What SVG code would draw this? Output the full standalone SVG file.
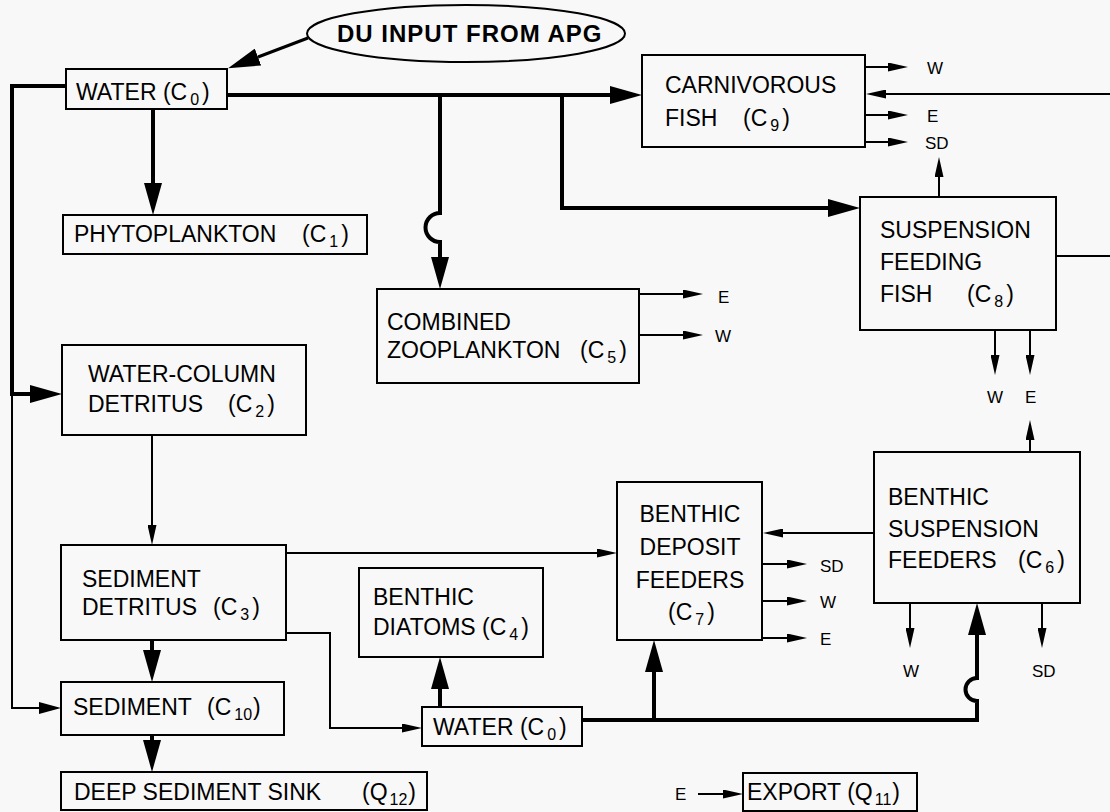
<svg xmlns="http://www.w3.org/2000/svg" width="1110" height="812" viewBox="0 0 1110 812">
<style>
.bg{fill:#f8f8f8}
.box{fill:none;stroke:#000;stroke-width:2}
.t{font-family:"Liberation Sans",Arial,Helvetica,sans-serif;font-size:23px;fill:#000}
.s{font-size:16px}
.l{font-family:"Liberation Sans",Arial,Helvetica,sans-serif;font-size:17px;fill:#000}
.b{font-family:"Liberation Sans",Arial,Helvetica,sans-serif;font-size:24px;font-weight:bold;letter-spacing:1px;fill:#000}
.thick{fill:none;stroke:#000;stroke-width:4;marker-end:url(#big)}
.thin{fill:none;stroke:#000;stroke-width:2;marker-end:url(#small)}
.plain{fill:none;stroke:#000;stroke-width:2}
</style>
<defs>
<marker id="big" markerUnits="userSpaceOnUse" markerWidth="32" markerHeight="18" refX="0" refY="9" orient="auto"><path d="M0,0 L32,9 L0,18 z" fill="#000"/></marker>
<marker id="mid" markerUnits="userSpaceOnUse" markerWidth="22" markerHeight="12" refX="0" refY="6" orient="auto"><path d="M0,0 L22,6 L0,12 z" fill="#000"/></marker>
<marker id="small" markerUnits="userSpaceOnUse" markerWidth="20" markerHeight="9" refX="0" refY="4.5" orient="auto"><path d="M0,0 L20,4.5 L0,9 z" fill="#000"/></marker>
</defs>
<rect class="bg" x="0" y="0" width="1110" height="812"/>

<g id="connectors">
<path d="M308,38 L258,57" fill="none" stroke="#000" stroke-width="3" marker-end="url(#big)"/>
<path class="thick" d="M66,86 H12 V394 H30"/>
<path d="M12,394 V708 H39" fill="none" stroke="#000" stroke-width="2" marker-end="url(#mid)"/>
<path class="thick" d="M153,109 V183"/>
<path class="thick" d="M227,95 H610"/>
<path class="thick" d="M440,95 V213 A14.5,14.5 0 0 0 440,242 V257"/>
<path class="thick" d="M562,95 V208 H828"/>
<path class="thick" d="M582,720 H977 V701 A11.5,11.5 0 0 1 977,678 V635"/>
<path class="thick" d="M654,720 V672"/>
<path class="thick" d="M440,707 V689"/>
<path class="thick" d="M152,640 V650"/>
<path class="thick" d="M152,735 V740"/>
<path class="thin" d="M152,435 V525"/>
<path class="thin" d="M286,553 H597"/>
<path class="thin" d="M286,633 H330 V728 H402"/>
<path class="thin" d="M874,533 H783"/>
<path class="thin" d="M939,197 V177"/>
<path class="thin" d="M1110,94 H886"/>
<path class="plain" d="M1056,256 H1110"/>
<path class="thin" d="M865,67 H888"/>
<path class="thin" d="M865,115 H888"/>
<path class="thin" d="M865,142 H888"/>
<path class="thin" d="M639,294 H683"/>
<path class="thin" d="M639,335 H683"/>
<path class="thin" d="M995,330 V355"/>
<path class="thin" d="M1030,330 V355"/>
<path class="thin" d="M1030,452 V440"/>
<path class="thin" d="M762,564 H787"/>
<path class="thin" d="M762,601 H787"/>
<path class="thin" d="M762,638 H787"/>
<path class="thin" d="M910,603 V628"/>
<path class="thin" d="M1042,603 V628"/>
<path class="thin" d="M698,794 H723"/>
</g>

<g id="labels">
<text class="l" x="927" y="74">W</text>
<text class="l" x="927" y="122">E</text>
<text class="l" x="925" y="149">SD</text>
<text class="l" x="718" y="303">E</text>
<text class="l" x="715" y="342">W</text>
<text class="l" x="987" y="403">W</text>
<text class="l" x="1025" y="403">E</text>
<text class="l" x="820" y="572">SD</text>
<text class="l" x="820" y="608">W</text>
<text class="l" x="820" y="645">E</text>
<text class="l" x="903" y="677">W</text>
<text class="l" x="1032" y="677">SD</text>
<text class="l" x="675" y="800">E</text>
</g>

<g id="du-input">
<ellipse class="box" cx="466" cy="33.5" rx="159" ry="28.5"/>
<text class="b" x="337" y="42">DU INPUT FROM APG</text>
</g>

<g id="water-top">
<rect class="box" x="66" y="69" width="161" height="40"/>
<text class="t" x="76" y="100">WATER (C<tspan class="s" dx="3" dy="5">0</tspan><tspan dx="3" dy="-5">)</tspan></text>
</g>

<g id="phytoplankton">
<rect class="box" x="63" y="215" width="304" height="39"/>
<text class="t" x="74" y="242">PHYTOPLANKTON<tspan x="302">(C</tspan><tspan class="s" dx="3" dy="5">1</tspan><tspan dx="3" dy="-5">)</tspan></text>
</g>

<g id="carnivorous-fish">
<rect class="box" x="642" y="55" width="223" height="92"/>
<text class="t" x="665" y="93">CARNIVOROUS</text>
<text class="t" x="665" y="126">FISH<tspan x="743">(C</tspan><tspan class="s" dx="3" dy="5">9</tspan><tspan dx="3" dy="-5">)</tspan></text>
</g>

<g id="suspension-feeding-fish">
<rect class="box" x="860" y="197" width="196" height="133"/>
<text class="t" x="880" y="238">SUSPENSION</text>
<text class="t" x="880" y="270">FEEDING</text>
<text class="t" x="880" y="302">FISH<tspan x="967">(C</tspan><tspan class="s" dx="3" dy="5">8</tspan><tspan dx="3" dy="-5">)</tspan></text>
</g>

<g id="combined-zooplankton">
<rect class="box" x="377" y="289" width="262" height="94"/>
<text class="t" x="387" y="330">COMBINED</text>
<text class="t" x="387" y="358">ZOOPLANKTON<tspan x="580">(C</tspan><tspan class="s" dx="3" dy="5">5</tspan><tspan dx="3" dy="-5">)</tspan></text>
</g>

<g id="water-column-detritus">
<rect class="box" x="62" y="345" width="244" height="90"/>
<text class="t" x="88" y="382">WATER-COLUMN</text>
<text class="t" x="88" y="412">DETRITUS<tspan x="228">(C</tspan><tspan class="s" dx="3" dy="5">2</tspan><tspan dx="3" dy="-5">)</tspan></text>
</g>

<g id="benthic-suspension-feeders">
<rect class="box" x="874" y="452" width="206" height="151"/>
<text class="t" x="888" y="505">BENTHIC</text>
<text class="t" x="888" y="537">SUSPENSION</text>
<text class="t" x="888" y="568">FEEDERS<tspan x="1018">(C</tspan><tspan class="s" dx="3" dy="5">6</tspan><tspan dx="3" dy="-5">)</tspan></text>
</g>

<g id="benthic-deposit-feeders">
<rect class="box" x="617" y="482" width="145" height="158"/>
<text class="t" x="690" y="522" text-anchor="middle">BENTHIC</text>
<text class="t" x="690" y="555" text-anchor="middle">DEPOSIT</text>
<text class="t" x="690" y="588" text-anchor="middle">FEEDERS</text>
<text class="t" x="668" y="620">(C<tspan class="s" dx="3" dy="5">7</tspan><tspan dx="3" dy="-5">)</tspan></text>
</g>

<g id="sediment-detritus">
<rect class="box" x="61" y="545" width="225" height="95"/>
<text class="t" x="82" y="587">SEDIMENT</text>
<text class="t" x="82" y="615">DETRITUS<tspan x="213">(C</tspan><tspan class="s" dx="3" dy="5">3</tspan><tspan dx="3" dy="-5">)</tspan></text>
</g>

<g id="benthic-diatoms">
<rect class="box" x="359" y="568" width="184" height="89"/>
<text class="t" x="373" y="605">BENTHIC</text>
<text class="t" x="373" y="635">DIATOMS (C<tspan class="s" dx="3" dy="5">4</tspan><tspan dx="3" dy="-5">)</tspan></text>
</g>

<g id="sediment">
<rect class="box" x="61" y="682" width="223" height="53"/>
<text class="t" x="73" y="715">SEDIMENT<tspan x="207">(C</tspan><tspan class="s" dx="3" dy="5">10</tspan><tspan dx="1" dy="-5">)</tspan></text>
</g>

<g id="water-bottom">
<rect class="box" x="422" y="707" width="160" height="39"/>
<text class="t" x="433" y="735">WATER (C<tspan class="s" dx="3" dy="5">0</tspan><tspan dx="3" dy="-5">)</tspan></text>
</g>

<g id="deep-sediment-sink">
<rect class="box" x="61" y="772" width="366" height="38"/>
<text class="t" x="74" y="800">DEEP SEDIMENT SINK<tspan x="362">(Q</tspan><tspan class="s" dx="2" dy="5">12</tspan><tspan dx="1" dy="-5">)</tspan></text>
</g>

<g id="export">
<rect class="box" x="743" y="773" width="174" height="38"/>
<text class="t" x="747" y="800">EXPORT (Q<tspan class="s" dx="2" dy="5">11</tspan><tspan dx="1" dy="-5">)</tspan></text>
</g>
</svg>
